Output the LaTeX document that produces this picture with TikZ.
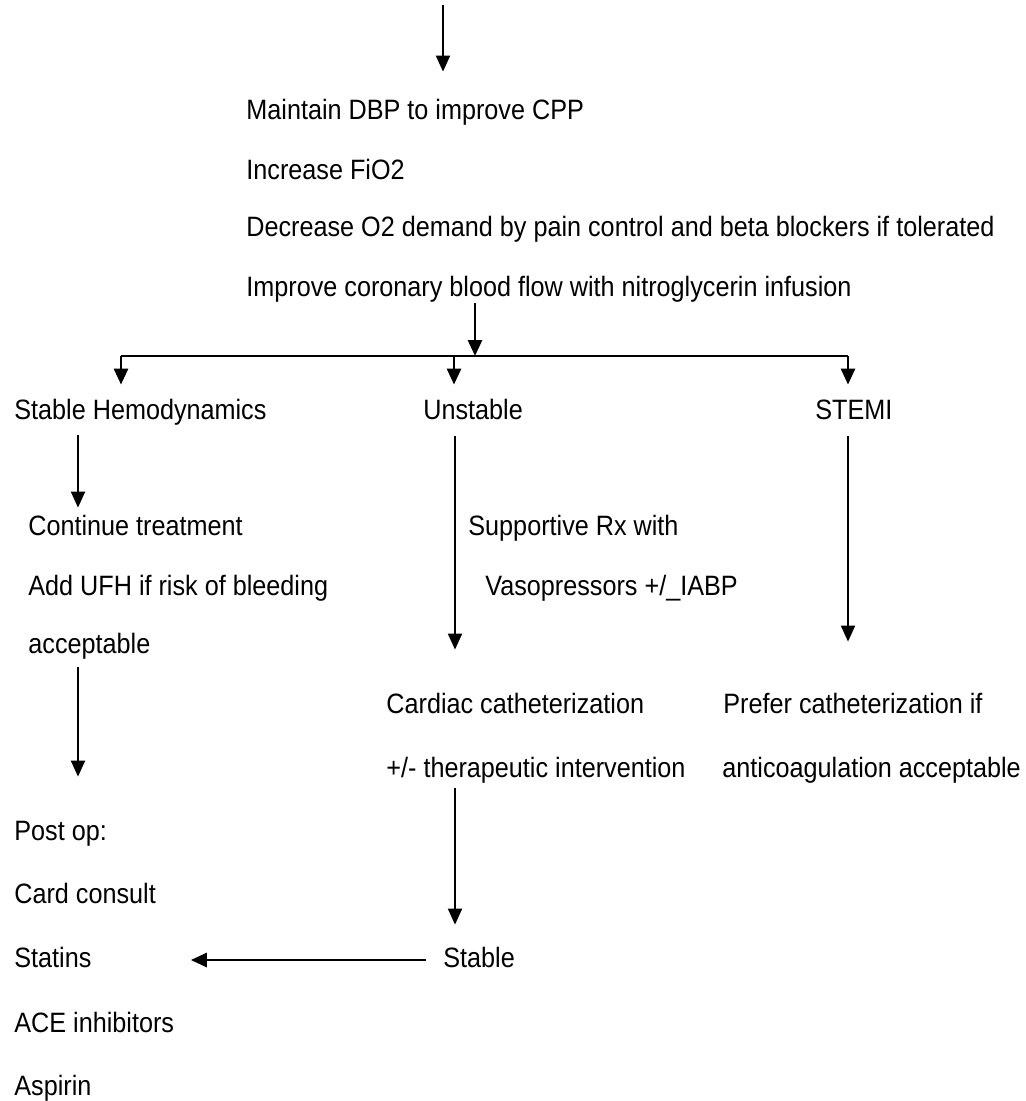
\documentclass[tikz,border=0pt]{standalone}
\usepackage{fontspec}
\setmainfont{Liberation Sans}[FakeStretch=0.9]
\usetikzlibrary{arrows.meta}

\begin{document}
\begin{tikzpicture}[x=0.5pt,y=-0.5pt,
  txt/.style={anchor=base west,inner sep=0pt,text height=10pt,text depth=3pt,font=\fontsize{14}{16}\selectfont},
  arr/.style={line width=1pt,-{Triangle[width=7pt,length=8pt]}},
  bigarr/.style={line width=1.4pt,-{Triangle[width=7pt,length=8pt]}},
  bar/.style={line width=1.4pt}]
\useasboundingbox (0,0) rectangle (1025,1101);
\node[txt] (maint) at (246,120) {Maintain DBP to improve CPP};
\node[txt] (fio) at (246,180) {Increase FiO2};
\node[txt] (demand) at (246,237) {Decrease O2 demand by pain control and beta blockers if tolerated};
\node[txt] (flow) at (246,297) {Improve coronary blood flow with nitroglycerin infusion};
\node[txt] (stable) at (14,419) {Stable Hemodynamics};
\node[txt] (unstable) at (423,419) {Unstable};
\node[txt] (stemi) at (815,419) {STEMI};
\node[txt] (cont) at (28,535) {Continue treatment};
\node[txt] (addufh) at (28,595) {Add UFH if risk of bleeding};
\node[txt] (accept) at (28,653) {acceptable};
\node[txt] (supp) at (468,535) {Supportive Rx with};
\node[txt] (vaso) at (485,595) {Vasopressors +/\_IABP};
\node[txt] (cath) at (386,713) {Cardiac catheterization};
\node[txt] (ther) at (386,777) {+/- therapeutic intervention};
\node[txt] (prefer) at (723,713) {Prefer catheterization if};
\node[txt] (anticoag) at (722,777) {anticoagulation acceptable};
\node[txt] (postop) at (14,840) {Post op:};
\node[txt] (card) at (14,903) {Card consult};
\node[txt] (statins) at (14,967) {Statins};
\node[txt] (ace) at (14,1032) {ACE inhibitors};
\node[txt] (aspirin) at (14,1095) {Aspirin};
\node[txt] (stab2) at (443,967) {Stable};
\coordinate (topsrc) at (443,5);
\coordinate (hub) at (475,356);
\coordinate (bl) at (121,356);
\coordinate (bm) at (454,356);
\coordinate (br) at (848,356);
\coordinate (colL) at (78,0);
\coordinate (colM) at (455,0);
\draw[arr,shorten >=14pt] (topsrc) -- (topsrc |- maint.north);
\draw[bigarr] (flow.south -| hub) -- (hub);
\draw[bar] (bl) -- (br);
\draw[bigarr,shorten >=7pt] (bl) -- (bl |- stable.north);
\draw[bigarr,shorten >=7pt] (bm) -- (bm |- unstable.north);
\draw[bigarr,shorten >=7pt] (br) -- (br |- stemi.north);
\draw[arr,shorten <=5pt,shorten >=3.5pt] (stable.south -| colL) -- (cont.north -| colL);
\draw[arr,shorten <=4pt,shorten >=21.5pt] (accept.south -| colL) -- (postop.north -| colL);
\draw[arr,shorten <=5.5pt,shorten >=21.5pt] (unstable.south -| colM) -- (cath.north -| colM);
\draw[arr,shorten <=5.5pt,shorten >=25.5pt] (stemi.south -| br) -- (prefer.north -| br);
\draw[arr,shorten <=2.5pt,shorten >=11pt] (ther.south -| colM) -- (stab2.north -| colM);
\draw[bigarr,shorten <=8.5pt,shorten >=49.5pt] (stab2.west) -- (stab2.west -| statins.east);
\end{tikzpicture}
\end{document}
